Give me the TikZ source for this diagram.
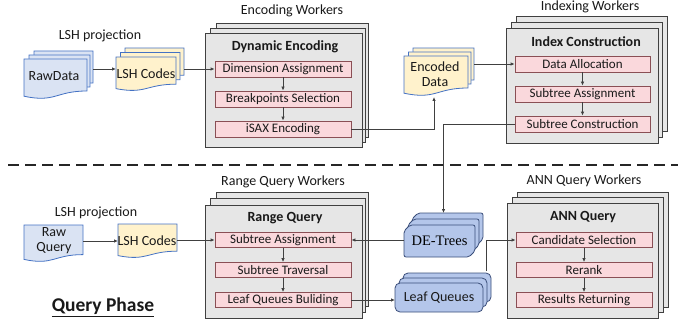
\documentclass[tikz,border=0pt]{standalone}
\usepackage{fontspec}
\setmainfont{Carlito}
\newfontfamily\timesf{Liberation Serif}
\usetikzlibrary{arrows.meta}
\definecolor{pinkf}{HTML}{FAD8DC}
\definecolor{pinkd}{HTML}{8A4F55}
\definecolor{grayf}{HTML}{E6E6E6}
\definecolor{grayd}{HTML}{404040}
\definecolor{bluef}{HTML}{DAE3F3}
\definecolor{blued}{HTML}{4472C4}
\definecolor{yelf}{HTML}{FFF2CC}
\definecolor{treef}{HTML}{B4C6EA}
\definecolor{treed}{HTML}{3A4E7A}
\definecolor{linec}{HTML}{404040}
\newcommand\docsh[5]{\path[#1] (#2,#3) -- (#4,#3) -- (#4,{#3+0.8*#5}) .. controls ({(#2+#4)/2},{#3+0.8*#5}) and ({(#2+#4)/2},{#3+1.1*#5}) .. (#2,{#3+0.93*#5}) -- cycle;}
\newcommand\chamf[5]{\path[#1] ({#2+6},#3) -- (#4,#3) -- (#4,{#5-6}) -- ({#4-6},#5) -- (#2,#5) -- (#2,{#3+6}) -- cycle;}
\begin{document}
\begin{tikzpicture}[x=1pt,y=-1pt,
  lbl/.style={font=\fontsize{14}{15}\selectfont, text=black!90, inner sep=0, align=center},
  ttl/.style={font=\bfseries\fontsize{14}{16}\selectfont, text=black!90, inner sep=0},
  pinkbox/.style={draw=pinkd, fill=pinkf, line width=0.8pt, minimum width=136pt, minimum height=16pt, inner sep=0, font=\fontsize{13}{15}\selectfont, text=black!90},
  graybox/.style={draw=grayd, fill=grayf, line width=0.8pt, inner sep=0},
  docb/.style={draw=blued, fill=bluef, line width=0.8pt},
  docy/.style={draw=blued, fill=yelf, line width=0.8pt},
  treebox/.style={draw=treed, fill=treef, line width=0.8pt, rounded corners=2pt},
  ghost/.style={inner sep=0, outer sep=0},
  arr/.style={draw=linec, line width=0.8pt, -{Latex[length=4pt,width=3.5pt]}},
  ln/.style={draw=linec, line width=0.8pt},
]
\useasboundingbox (0,0) rectangle (692,326);

% ---------- Encoding workers ----------
\draw[graybox] (216,23) rectangle (368,137);
\draw[graybox] (210.5,28) rectangle (365,142);
\node[graybox, minimum width=157pt, minimum height=114pt] (encw) at (283.5,90) {};
\node[ttl] (dyn) at (285,47) {Dynamic Encoding};
\node[lbl] (encl) at (292,11) {Encoding Workers};
\node[pinkbox] (da) at (283,69) {Dimension Assignment};
\node[pinkbox] (bs) at (283,99) {Breakpoints Selection};
\node[pinkbox] (ie) at (283,129) {iSAX Encoding};

% ---------- Indexing workers ----------
\draw[graybox] (516,16) rectangle (667,131);
\draw[graybox] (511,22) rectangle (662,137);
\node[graybox, minimum width=152pt, minimum height=115pt] (idxw) at (582,85.5) {};
\node[ttl] (idxt) at (586,42) {Index Construction};
\node[lbl] (idxl) at (590,7) {Indexing Workers};
\node[pinkbox, minimum width=135pt] (dal) at (582.5,64) {Data Allocation};
\node[pinkbox, minimum width=135pt] (sa) at (582.5,94) {Subtree Assignment};
\node[pinkbox, minimum width=135pt] (sc) at (582.5,124) {Subtree Construction};

% ---------- Range query workers ----------
\draw[graybox] (216,192) rectangle (368,306);
\draw[graybox] (210.5,198) rectangle (365,312);
\node[graybox, minimum width=157pt, minimum height=113pt] (rqw) at (283.5,261.5) {};
\node[ttl] (rqt) at (285,218) {Range Query};
\node[lbl] (rql) at (283,182) {Range Query Workers};
\node[pinkbox, minimum height=15pt] (rsa) at (283,240) {Subtree Assignment};
\node[pinkbox, minimum height=15pt] (rst) at (283,270) {Subtree Traversal};
\node[pinkbox, minimum height=15pt] (rlq) at (283,300) {Leaf Queues Buliding};

% ---------- ANN query workers ----------
\draw[graybox] (517,192) rectangle (668,307);
\draw[graybox] (512,197) rectangle (663,312);
\node[graybox, minimum width=151pt, minimum height=115pt] (annw) at (582.5,260.5) {};
\node[ttl] (annt) at (583,217) {ANN Query};
\node[lbl] (annl) at (584,181) {ANN Query Workers};
\node[pinkbox, minimum height=15pt] (cs) at (584,240) {Candidate Selection};
\node[pinkbox, minimum height=15pt] (rr) at (584,270) {Rerank};
\node[pinkbox, minimum height=15pt] (rt) at (584,300) {Results Returning};

% ---------- documents ----------
\node[lbl] (lshp1) at (100,36) {LSH projection};
\docsh{docb}{34}{51}{93}{40}
\docsh{docb}{29}{55}{90}{40}
\docsh{docb}{24}{59}{87}{40}
\node[ghost, minimum width=69pt, minimum height=46pt] (raw) at (58.5,74) {};
\node[lbl] (rawt) at (54,76) {RawData};

\docsh{docy}{125}{48}{184}{34}
\docsh{docy}{120.5}{52.5}{180}{34}
\docsh{docy}{116}{57}{176}{34}
\node[ghost, minimum width=68pt, minimum height=42pt] (lsha) at (150,69) {};
\node[lbl] (lshat) at (146,74) {LSH Codes};

\docsh{docy}{413}{48}{474}{40}
\docsh{docy}{408.5}{52}{471}{40}
\docsh{docy}{404}{56}{468}{40}
\node[ghost, minimum width=70pt, minimum height=48pt] (encd) at (439,72) {};
\node[lbl] (encdt) at (435,74) {Encoded\\Data};

\node[lbl] (lshp2) at (96,213) {LSH projection};
\docsh{docb}{24}{225}{83}{37}
\node[ghost, minimum width=59pt, minimum height=34pt] (rqd) at (53.5,241) {};
\node[lbl] (rqdt) at (54,240.5) {Raw\\Query};

\docsh{docy}{118}{224}{177}{34}
\node[ghost, minimum width=59pt, minimum height=34pt] (lshb) at (147.5,241) {};
\node[lbl] (lshbt) at (147,241) {LSH Codes};

% ---------- DE-Trees ----------
\chamf{treebox}{412}{213}{483}{245}
\chamf{treebox}{408}{219}{479}{251}
\chamf{treebox}{404}{225}{475}{257}
\node[ghost, minimum width=79pt, minimum height=44pt] (det) at (443.5,235) {};
\node[inner sep=0, font=\timesf\fontsize{14.5}{16}\selectfont] (dett) at (439.5,241) {DE-Trees};

% ---------- Leaf Queues ----------
\draw[treebox, rounded corners=5pt] (403,273) rectangle (491,302);
\draw[treebox, rounded corners=5pt] (399,278) rectangle (487,307);
\draw[treebox, rounded corners=5pt] (395,283) rectangle (483,312);
\node[ghost, minimum width=96pt, minimum height=39pt] (leaf) at (443,292.5) {};
\node[lbl] (leaft) at (439,298) {Leaf Queues};

% ---------- separator and phase label ----------
\coordinate (sepL) at (8,165);
\coordinate (sepR) at (678,165);
\draw[line width=1.8pt, black!85, dash pattern=on 11pt off 6pt] (sepL) -- (sepR);
\node[inner sep=0, font=\bfseries\fontsize{19.5}{22}\selectfont, text=black!90] (qp) at (103,307) {\underline{Query Phase}};

% ---------- connectors ----------
\draw[arr] (raw.east |- lsha.west) -- (lsha.west -| 116,0);
\draw[arr] (lsha.east |- da.west) -- (da.west);
\draw[arr] (da.south) -- (bs.north);
\draw[arr] (bs.south) -- (ie.north);
\draw[arr] (ie.east) -| ([xshift=-5pt,yshift=-1pt]encd.south);
\draw[arr] (encd.east |- dal.west) -- (dal.west);
\draw[arr] (dal.south) -- (sa.north);
\draw[arr] (sa.south) -- (sc.north);
\draw[arr] (sc.west) -| (det.north);
\draw[arr] (det.west |- rsa.east) -- (rsa.east);
\draw[arr] (rqd.east) -- (lshb.west);
\draw[arr] (lshb.east |- rsa.west) -- (rsa.west);
\draw[arr] (rsa.south) -- (rst.north);
\draw[arr] (rst.south) -- (rlq.north);
\draw[arr] (rlq.east) -- (rlq.east -| leaf.west);
\draw[arr] ([xshift=43pt,yshift=2pt]leaf.north) |- (cs.west);
\draw[arr] (cs.south) -- (rr.north);
\draw[arr] (rr.south) -- (rt.north);
\end{tikzpicture}
\end{document}
